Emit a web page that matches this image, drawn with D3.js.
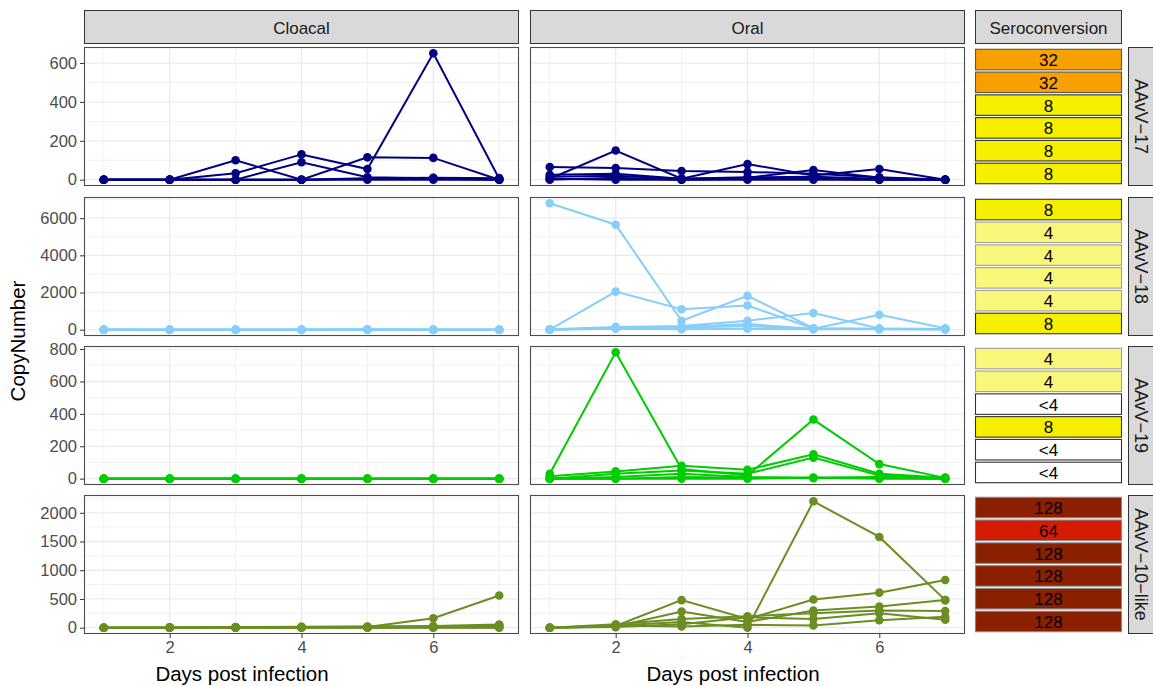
<!DOCTYPE html>
<html><head><meta charset="utf-8">
<script src="https://cdn.jsdelivr.net/npm/d3@7"></script>
<style>body{margin:0;background:#fff;} text{font-family:"Liberation Sans",Arial,sans-serif;}</style>
</head><body><svg id="c" width="1153" height="686"></svg>
<script>
const days = [1,2,3,4,5,6,7];
const virusRows = ["AAvV\u221217","AAvV\u221218","AAvV\u221219","AAvV\u221210\u2212like"];
const routes = ["Cloacal","Oral"];
const lineColors = ["#000080","#87CEFA","#00CD00","#6B8E23"];
const xTicks = [2,4,6];
const yTicks17 = [0,200,400,600];
const yTicks18 = [0,2000,4000,6000];
const yTicks19 = [0,200,400,600,800];
const yTicks10 = [0,500,1000,1500,2000];

// copy numbers per animal, days 1..7
const cloacal17 = [[0,0,33,130,55,650,5],[0,0,100,0,115,112,0],[0,0,0,90,12,8,3],[0,0,0,0,5,5,0],[0,0,0,0,0,0,0],[0,0,0,0,8,10,8]];
const oral17 = [[65,60,45,40,30,12,0],[5,150,5,80,22,55,0],[25,30,5,10,50,10,0],[15,20,5,12,15,5,0],[0,10,0,5,5,0,0],[5,0,0,0,0,0,0]];
const cloacal18 = [[10,0,0,0,20,0,0],[0,0,0,0,0,0,0],[0,0,0,0,0,0,0],[0,0,0,0,0,0,0],[0,0,0,0,0,0,0],[0,0,0,0,0,0,0]];
const oral18 = [[6800,5650,480,1820,80,50,30],[0,2050,1100,1300,60,30,20],[20,150,200,480,900,60,40],[0,100,150,300,50,800,80],[10,80,100,200,30,40,20],[0,50,20,50,20,20,10]];
const cloacal19 = [[0,0,0,0,0,0,0],[0,0,0,0,0,0,0],[0,0,0,0,0,0,0],[0,0,0,0,0,0,0],[0,0,0,0,0,0,0],[0,0,0,0,0,0,0]];
const oral19 = [[30,780,60,20,365,90,5],[15,45,80,55,150,30,5],[0,30,50,30,130,20,5],[0,10,30,10,5,10,0],[0,0,10,5,5,5,0],[0,0,0,0,5,0,0]];
const cloacal10 = [[0,5,5,10,10,165,560],[0,5,10,15,20,30,55],[0,0,5,10,15,20,40],[0,0,0,5,5,10,15],[0,0,0,0,5,5,5],[0,0,0,0,0,0,0]];
const oral10 = [[0,40,100,0,2200,1580,480],[0,30,480,150,490,610,830],[0,20,280,100,300,370,480],[0,60,150,200,250,300,290],[0,10,60,180,150,250,140],[0,40,20,50,40,130,190]];
const titers17 = ["32","32","8","8","8","8"];
const titers18 = ["8","4","4","4","4","8"];
const titers19 = ["4","4","<4","8","<4","<4"];
const titers10 = ["128","64","128","128","128","128"];
const titerLevels = ["<4","4","8","32","64","128"];
const titerFills = ["#FFFFFF","#F8F77A","#F7EF00","#F7A000","#D41B00","#8B2000"];
const titerBorders = ["#333333","#A0A0A0","#333333","#555555","#888888","#888888"];

const cloacalData = [cloacal17,cloacal18,cloacal19,cloacal10];
const oralData = [oral17,oral18,oral19,oral10];
const yTicksRows = [yTicks17,yTicks18,yTicks19,yTicks10];
const titerRows = [titers17,titers18,titers19,titers10];

const svg = d3.select("#c");
const colX = [[84,519],[530,965]];
const titleX = [242,733];
const seroX = [975,1122];
const rStrip = [1128,1153];
const rowTop = [47,197,346,495];
const rowH = 139;
const stripY = [10,44];
const FONT = "Liberation Sans, Arial, sans-serif";

function strip(x0,y0,w,h,label,rot){
  const g = svg.append("g");
  g.append("rect").attr("x",x0+0.5).attr("y",y0+0.5).attr("width",w-1).attr("height",h-1)
    .attr("fill","#D9D9D9").attr("stroke","#333").attr("stroke-width",1);
  const t = g.append("text").attr("fill","#1A1A1A").attr("font-size",17)
    .attr("text-anchor","middle").attr("dominant-baseline","central").text(label);
  if(rot){ t.attr("transform",`translate(${x0+w/2-1},${y0+h/2}) rotate(90)`).attr("font-size",18); }
  else { t.attr("x",x0+w/2).attr("y",y0+h/2+1); }
}
routes.forEach((r,i)=>strip(colX[i][0],stripY[0],colX[i][1]-colX[i][0],stripY[1]-stripY[0],r,false));
strip(seroX[0],stripY[0],seroX[1]-seroX[0],stripY[1]-stripY[0],"Seroconversion",false);

virusRows.forEach((vr,ri)=>{
  const y0 = rowTop[ri], y1 = y0+rowH;
  const ticks = yTicksRows[ri];
  const maxV = d3.max([...cloacalData[ri],...oralData[ri]].flat());
  const y = d3.scaleLinear().domain([-0.05*maxV,1.05*maxV]).range([y1,y0]);
  const minorY = ticks.map((t,i)=>i<ticks.length-1?(t+ticks[i+1])/2:t+(ticks[1]-ticks[0])/2).filter(v=>v<=1.05*maxV);
  [cloacalData[ri],oralData[ri]].forEach((series,ci)=>{
    const [x0,x1] = colX[ci];
    const x = d3.scaleLinear().domain([0.7,7.3]).range([x0,x1]);
    const g = svg.append("g");
    g.append("rect").attr("x",x0).attr("y",y0).attr("width",x1-x0).attr("height",rowH).attr("fill","#fff");
    g.selectAll(".mx").data([1,3,5,7]).join("line").attr("x1",d=>x(d)).attr("x2",d=>x(d)).attr("y1",y0).attr("y2",y1)
      .attr("stroke","#EBEBEB").attr("stroke-width",0.7);
    g.selectAll(".my").data(minorY).join("line").attr("y1",d=>y(d)).attr("y2",d=>y(d)).attr("x1",x0).attr("x2",x1)
      .attr("stroke","#EBEBEB").attr("stroke-width",0.7);
    g.selectAll(".Mx").data(xTicks).join("line").attr("x1",d=>x(d)).attr("x2",d=>x(d)).attr("y1",y0).attr("y2",y1)
      .attr("stroke","#EBEBEB").attr("stroke-width",1.3);
    g.selectAll(".My").data(ticks).join("line").attr("y1",d=>y(d)).attr("y2",d=>y(d)).attr("x1",x0).attr("x2",x1)
      .attr("stroke","#EBEBEB").attr("stroke-width",1.3);
    const line = d3.line().x((d,i)=>x(days[i])).y(d=>y(d));
    g.selectAll(".ln").data(series).join("path").attr("d",line).attr("fill","none")
      .attr("stroke",lineColors[ri]).attr("stroke-width",2);
    series.forEach(s=>{
      g.selectAll(null).data(s).join("circle").attr("cx",(d,i)=>x(days[i])).attr("cy",d=>y(d)).attr("r",4.3)
        .attr("fill",lineColors[ri]);
    });
    g.append("rect").attr("x",x0+0.5).attr("y",y0+0.5).attr("width",x1-x0-1).attr("height",rowH-1)
      .attr("fill","none").attr("stroke","#4D4D4D").attr("stroke-width",1.1);
    if(ci===0){
      const ax = svg.append("g").attr("transform",`translate(${x0},0)`)
        .call(d3.axisLeft(y).tickValues(ticks).tickSize(4).tickPadding(3).tickFormat(d3.format("d")));
      ax.select(".domain").remove();
      ax.selectAll("line").attr("stroke","#333");
      ax.selectAll("text").attr("fill","#4D4D4D").attr("font-size",16.5).attr("font-family",FONT);
    }
    if(ri===virusRows.length-1){
      const ax = svg.append("g").attr("transform",`translate(0,${y1})`)
        .call(d3.axisBottom(x).tickValues(xTicks).tickSize(4).tickPadding(3).tickFormat(d3.format("d")));
      ax.select(".domain").remove();
      ax.selectAll("line").attr("stroke","#333");
      ax.selectAll("text").attr("fill","#4D4D4D").attr("font-size",16.5).attr("font-family",FONT);
      svg.append("text").attr("x",titleX[ci]).attr("y",681).attr("text-anchor","middle")
        .attr("font-size",20.5).attr("fill","#000").text("Days post infection");
    }
  });
  const band = d3.scaleBand().domain(d3.range(6)).range([y0,y1]).padding(0.1);
  const fill = d3.scaleOrdinal().domain(titerLevels).range(titerFills);
  const border = d3.scaleOrdinal().domain(titerLevels).range(titerBorders);
  const tg = svg.append("g");
  tg.selectAll("rect").data(titerRows[ri]).join("rect")
    .attr("x",seroX[0]+0.5).attr("width",seroX[1]-seroX[0]-1)
    .attr("y",(d,i)=>band(i)).attr("height",band.bandwidth())
    .attr("fill",d=>fill(d)).attr("stroke",d=>border(d)).attr("stroke-width",1.1);
  tg.selectAll("text").data(titerRows[ri]).join("text")
    .attr("x",(seroX[0]+seroX[1])/2).attr("y",(d,i)=>band(i)+band.bandwidth()/2+1)
    .attr("text-anchor","middle").attr("dominant-baseline","central")
    .attr("font-size",17).attr("fill","#000").text(d=>d);
  strip(rStrip[0],y0,rStrip[1]-rStrip[0]+2,rowH,vr,true);
});

svg.append("text").attr("transform","translate(25,341) rotate(-90)").attr("text-anchor","middle")
  .attr("font-size",20.5).attr("fill","#000").text("CopyNumber");
</script></body></html>
